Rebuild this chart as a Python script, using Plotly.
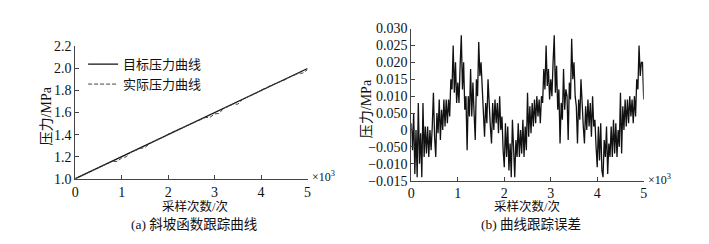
import plotly.graph_objects as go

# ---------------- data ----------------
# (a) ramp tracking: target line endpoints and measured (actual) pressure
target_x = [0, 5000]
target_p = [1.0, 2.0]

actual_x = list(range(0, 5001, 100))
actual_p = [1.000, 1.024, 1.042, 1.061, 1.081, 1.100, 1.120, 1.140, 1.158, 1.157,
            1.188, 1.200, 1.242, 1.257, 1.275, 1.282, 1.318, 1.340, 1.357, 1.378,
            1.405, 1.421, 1.444, 1.461, 1.480, 1.497, 1.516, 1.536, 1.555, 1.557,
            1.588, 1.593, 1.642, 1.655, 1.677, 1.676, 1.718, 1.740, 1.757, 1.778,
            1.806, 1.821, 1.845, 1.860, 1.881, 1.894, 1.918, 1.937, 1.955, 1.958,
            1.990]

# (b) tracking error
err_x = list(range(0, 5001, 25))
err_v = [0.002, -0.006, 0.005, -0.013, 0.000, -0.014, 0.008, -0.010, -0.001, -0.014,
         0.008, -0.008, 0.001, -0.007, 0.001, -0.008, 0.000, -0.006, 0.001, 0.011,
         -0.002, -0.008, 0.005, -0.001, 0.009, -0.003, 0.006, 0.000, 0.009, 0.001,
         0.009, 0.002, 0.009, 0.004, 0.015, 0.012, 0.025, 0.011, 0.020, 0.008,
         0.014, 0.008, 0.019, 0.028, 0.012, 0.020, 0.006, 0.010, -0.006, 0.010,
         0.004, 0.018, 0.004, 0.014, 0.005, -0.003, 0.015, 0.010, 0.026, 0.016,
         0.020, 0.012, 0.006, -0.002, 0.008, 0.002, 0.015, 0.006, 0.001, -0.004,
         0.008, 0.000, 0.009, 0.002, 0.008, -0.001, 0.010, 0.000, 0.004, -0.006,
         -0.011, 0.002, -0.008, 0.001, -0.012, -0.004, -0.014, 0.003, -0.008, -0.014,
         -0.003, -0.008, 0.002, -0.008, 0.000, -0.007, 0.003, -0.008, 0.001, -0.006,
         0.011, -0.002, 0.007, -0.001, 0.008, 0.001, 0.009, 0.002, 0.010, 0.004,
         0.009, 0.002, 0.010, 0.008, 0.018, 0.012, 0.025, 0.013, 0.018, 0.009,
         0.015, 0.010, 0.020, 0.028, 0.011, 0.019, 0.006, 0.012, -0.004, 0.008,
         0.003, 0.018, 0.006, 0.012, 0.010, -0.003, 0.014, 0.009, 0.027, 0.015,
         0.020, 0.010, 0.007, -0.004, 0.009, 0.003, 0.015, 0.005, 0.001, -0.004,
         0.007, 0.000, 0.009, 0.001, 0.008, -0.002, 0.010, 0.001, 0.003, -0.005,
         -0.011, 0.001, -0.009, 0.002, -0.012, -0.014, -0.003, -0.008, 0.001, -0.013,
         -0.004, -0.008, 0.001, -0.008, 0.003, -0.007, 0.002, -0.008, 0.000, -0.005,
         0.011, -0.007, 0.007, 0.000, 0.009, 0.001, 0.009, 0.002, 0.010, 0.004,
         0.009, 0.002, 0.010, 0.004, 0.015, 0.012, 0.025, 0.016, 0.020, 0.020,
         0.009]

x_tickvals = [0, 1000, 2000, 3000, 4000, 5000]
x_ticktext = ["0", "1", "2", "3", "4", "5"]
ya_tickvals = [1.0, 1.2, 1.4, 1.6, 1.8, 2.0, 2.2]
ya_ticktext = ["1.0", "1.2", "1.4", "1.6", "1.8", "2.0", "2.2"]
yb_tickvals = [-0.015, -0.010, -0.005, 0, 0.005, 0.010, 0.015, 0.020, 0.025, 0.030]
yb_ticktext = ["\u22120.015", "\u22120.010", "\u22120.050", "0", "0.050",
               "0.010", "0.015", "0.020", "0.025", "0.030"]

legend_names = ["目标压力曲线", "实际压力曲线"]

# ---------------- figure ----------------
FONT = "Liberation Serif, Noto Sans CJK SC, serif"
W, H = 709, 244

fig = go.Figure()
fig.add_trace(go.Scatter(x=target_x, y=target_p, mode="lines", name=legend_names[0],
                         line=dict(color="#111111", width=1.3), xaxis="x", yaxis="y"))
fig.add_trace(go.Scatter(x=actual_x, y=actual_p, mode="lines", name=legend_names[1],
                         line=dict(color="#444444", width=1, dash="4px,2px"),
                         xaxis="x", yaxis="y"))
fig.add_trace(go.Scatter(x=err_x, y=err_v, mode="lines", showlegend=False,
                         line=dict(color="#111111", width=1.3), xaxis="x2", yaxis="y2"))

def px_x(p):
    return p / W

def px_y(p):
    return (H - p) / H

axis_common = dict(showline=True, linecolor="#444444", linewidth=1, ticks="inside",
                   ticklen=4, tickcolor="#444444", showgrid=False, zeroline=False,
                   tickfont=dict(family=FONT, size=14, color="#111111"), mirror=False)

fig.update_layout(
    width=W, height=H,
    margin=dict(l=0, r=0, t=0, b=0),
    paper_bgcolor="white", plot_bgcolor="white",
    font=dict(family=FONT, size=13, color="#111111"),
    xaxis=dict(domain=[px_x(72), px_x(307)], range=[0, 5000], anchor="y",
               tickvals=x_tickvals, ticktext=x_ticktext, **axis_common),
    yaxis=dict(domain=[px_y(183), px_y(42)], range=[1.0, 2.2], anchor="x",
               tickvals=ya_tickvals, ticktext=ya_ticktext, **axis_common),
    xaxis2=dict(domain=[px_x(412), px_x(647)], range=[0, 5000], anchor="y2",
                tickvals=x_tickvals, ticktext=x_ticktext, **axis_common),
    yaxis2=dict(domain=[px_y(185), px_y(23)], range=[-0.015, 0.030], anchor="x2",
                tickvals=yb_tickvals, ticktext=yb_ticktext, **axis_common),
    legend=dict(x=px_x(80), y=px_y(45), xanchor="left", yanchor="top",
                bgcolor="rgba(0,0,0,0)", font=dict(family=FONT, size=13, color="#111111"),
                itemwidth=30, tracegroupgap=0),
)

ann = []
def text(x, y, s, size=13, angle=0, xanchor="center", yanchor="middle"):
    ann.append(dict(x=px_x(x), y=px_y(y), xref="paper", yref="paper", text=s,
                    showarrow=False, textangle=angle, xanchor=xanchor, yanchor=yanchor,
                    font=dict(family=FONT, size=size, color="#111111")))

text(43, 116, "压力/MPa", size=14, angle=-90)
text(367, 108, "压力/MPa", size=14, angle=-90)
text(193, 213, "采样次数/次", size=12.5)
text(529, 213, "采样次数/次", size=12.5)
text(192, 232, "(a) 斜坡函数跟踪曲线", size=13.5)
text(533, 232, "(b) 曲线跟踪误差", size=13.5)
text(309, 181, "×10<sup>3</sup>", size=12, xanchor="left")
text(649, 184, "×10<sup>3</sup>", size=12, xanchor="left")
fig.update_layout(annotations=ann)

fig.write_html("out.html",
               config={"displayModeBar": False},
               post_script="document.body.style.margin='0';document.body.style.padding='0';")
